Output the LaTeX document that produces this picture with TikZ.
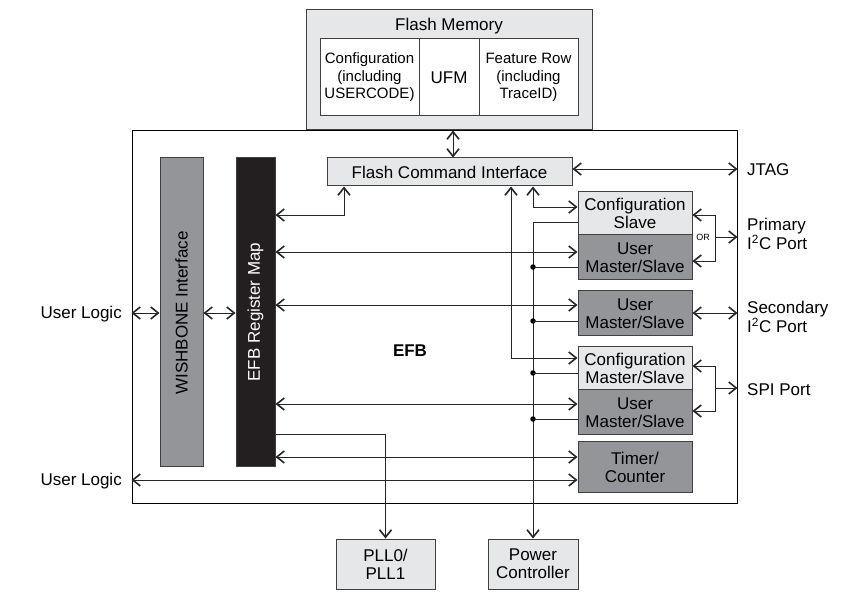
\documentclass[tikz,border=0pt]{standalone}
\usepackage{fontspec}
\setmainfont{Liberation Sans}
\usetikzlibrary{arrows.meta,calc}
\definecolor{lgray}{HTML}{E6E7E8}
\definecolor{dgray}{HTML}{939598}
\definecolor{rblack}{HTML}{231F20}
\definecolor{bord}{HTML}{404041}
\begin{document}
\begin{tikzpicture}[x=1pt,y=-1pt,
  every node/.style={font=\fontsize{17}{18}\selectfont, inner sep=0pt, align=center},
  small/.style={font=\fontsize{15}{17.5}\selectfont},
  blk/.style={draw=bord, line width=1pt, minimum width=#1},
  lbox/.style={blk=#1, fill=lgray},
  dbox/.style={blk=114, fill=dgray},
  wbox/.style={blk=#1, fill=white},
  conn/.style={draw=black!85, line width=0.9pt},
  dbl/.style={conn, {Straight Barb[length=7.5pt,width=12pt,line width=1.6pt]}-{Straight Barb[length=7.5pt,width=12pt,line width=1.6pt]}},
  sgl/.style={conn, -{Straight Barb[length=7.5pt,width=12pt,line width=1.6pt]}},
  dot/.style={circle, fill=black, minimum size=5.5pt, inner sep=0pt}
  ]
\useasboundingbox (0,0) rectangle (857,601);

% Flash memory
\node[lbox=286, minimum height=120] (flash) at (449,70) {};
\node (flasht) at (449,26) {Flash Memory};
\node[wbox=99, minimum height=77, small] (cfg) at (369.5,77.5) {Configuration\\(including\\USERCODE)};
\node[wbox=60, minimum height=77] (ufm) at (449,77.5) {UFM};
\node[wbox=99, minimum height=77, small] (feat) at (528.5,77.5) {Feature Row\\(including\\TraceID)};

% EFB block
\node[draw=black, line width=1pt, minimum width=605, minimum height=372] (efb) at (434.5,317) {};
\node[font=\fontsize{17}{18}\selectfont\bfseries] (efbt) at (410,351) {EFB};

\node[lbox=245, minimum height=28] (fci) at (449.5,172) {Flash Command Interface};
\node[blk=43, fill=dgray, minimum height=308] (wb) at (181.5,312) {};
\node[rotate=90] (wbt) at (181.5,313) {WISHBONE Interface};
\node[blk=39, fill=rblack, minimum height=308] (reg) at (255.5,312) {};
\node[rotate=90, text=white] (regt) at (255.5,312) {EFB Register Map};

\node[lbox=114, minimum height=43] (cs) at (635,213.5) {Configuration\\Slave};
\node[dbox, minimum height=45] (ums1) at (635,257.5) {User\\Master/Slave};
\node[dbox, minimum height=45] (ums2) at (635,313.5) {User\\Master/Slave};
\node[lbox=114, minimum height=43] (cms) at (635,368.5) {Configuration\\Master/Slave};
\node[dbox, minimum height=45] (ums3) at (635,412.5) {User\\Master/Slave};
\node[dbox, minimum height=50] (tim) at (635,467) {Timer/\\Counter};

\node[lbox=99, minimum height=50] (pll) at (385.5,564) {PLL0/\\PLL1};
\node[lbox=90, minimum height=50] (pwr) at (533,564) {Power\\Controller};

% outside labels
\node[anchor=west] (jtag) at (747,170) {JTAG};
\node[anchor=west, align=left] (pri) at (747,234) {Primary\\I\textsuperscript{2}C Port};
\node[anchor=west, align=left] (sec) at (747,317) {Secondary\\I\textsuperscript{2}C Port};
\node[anchor=west] (spi) at (747,390) {SPI Port};
\node[anchor=east] (ul1) at (122,314) {User Logic};
\node[anchor=east] (ul2) at (122,481) {User Logic};
\node[font=\fontsize{9}{10}\selectfont] (ort) at (703,237) {OR};

% coordinates
\coordinate (orA) at (715,237);
\coordinate (spiA) at (715,388);

% connectors
\draw[dbl] (453,0 |- flash.south) -- (453,0 |- fci.north);
\draw[dbl] (fci.east |- 0,169) -- (efb.east |- 0,169);
\draw[dbl] (reg.east |- 0,215) -| (344,0 |- fci.south);
\draw[dbl] (reg.east |- 0,252) -- (ums1.west |- 0,252);
\draw[dbl] (reg.east |- 0,305) -- (ums2.west |- 0,305);
\draw[dbl] (reg.east |- 0,404) -- (ums3.west |- 0,404);
\draw[sgl] (reg.east |- 0,434) -| (pll.north);
\draw[dbl] (reg.east |- 0,457) -- (tim.west |- 0,457);
\draw[dbl] (efb.west |- 0,480) -- (tim.west |- 0,480);
\draw[dbl] (efb.west |- 0,313) -- (wb.west |- 0,313);
\draw[dbl] (wb.east |- 0,313) -- (reg.west |- 0,313);

\draw[dbl] (511,0 |- fci.south) |- (cms.west |- 0,358);
\draw[dbl] (533,0 |- fci.south) |- (cs.west |- 0,207);
\draw[sgl] (cs.west |- 0,222) -| (pwr.north);
\node[dot] (d1) at (533,267) {};
\node[dot] (d2) at (533,321) {};
\node[dot] (d3) at (533,373) {};
\node[dot] (d4) at (533,419) {};
\draw[conn] (d1.center) -- (ums1.west |- d1);
\draw[conn] (d2.center) -- (ums2.west |- d2);
\draw[conn] (d3.center) -- (cms.west |- d3);
\draw[conn] (d4.center) -- (ums3.west |- d4);

\draw[dbl] (cs.east |- 0,215) -- (orA |- 0,215) -- (orA |- 0,261) -- (ums1.east |- 0,261);
\draw[sgl] (orA) -- (efb.east |- orA);
\draw[dbl] (ums2.east |- 0,313) -- (efb.east |- 0,313);
\draw[dbl] (cms.east |- 0,366) -- (spiA |- 0,366) -- (spiA |- 0,411) -- (ums3.east |- 0,411);
\draw[sgl] (spiA) -- (efb.east |- spiA);
\end{tikzpicture}
\end{document}
